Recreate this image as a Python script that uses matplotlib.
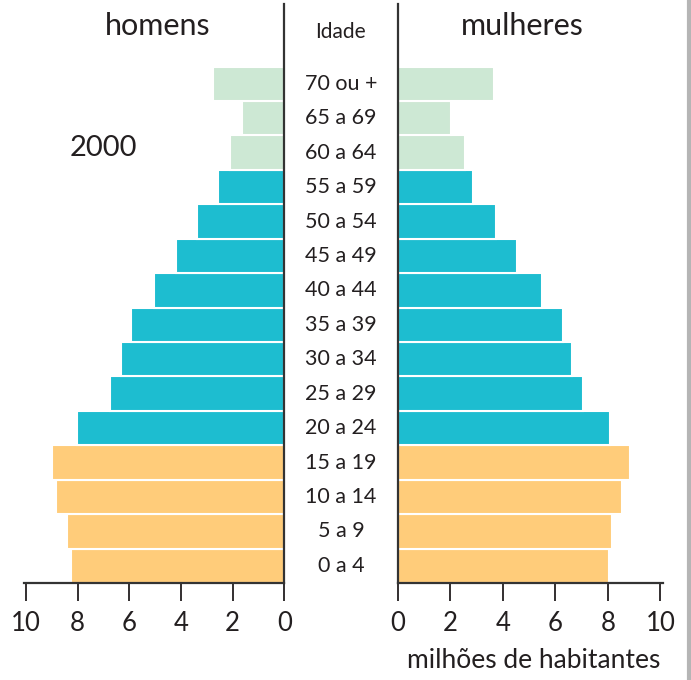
import matplotlib
matplotlib.use('Agg')
from matplotlib import pyplot as plt
from matplotlib.transforms import blended_transform_factory

# age groups, bottom to top
idades = ['0 a 4', '5 a 9', '10 a 14', '15 a 19', '20 a 24', '25 a 29', '30 a 34',
          '35 a 39', '40 a 44', '45 a 49', '50 a 54', '55 a 59', '60 a 64',
          '65 a 69', '70 ou +']
# milhoes de habitantes (2000)
homens = [8.26, 8.42, 8.83, 8.98, 8.01, 6.74, 6.33, 5.93, 5.06, 4.18, 3.38,
          2.58, 2.10, 1.63, 2.75]
mulheres = [8.05, 8.15, 8.54, 8.86, 8.07, 7.05, 6.65, 6.27, 5.48, 4.52, 3.75,
            2.87, 2.55, 2.01, 3.67]
ticks = [0, 2, 4, 6, 8, 10]

LARANJA = '#FFCC7A'
AZUL = '#1DBDD0'
VERDE = '#CDE8D4'
TEXTO = '#231f20'
cores = [LARANJA] * 4 + [AZUL] * 8 + [VERDE] * 3

plt.rcParams['font.family'] = ['Lato', 'DejaVu Sans']
plt.rcParams['text.color'] = TEXTO

W, H = 691, 680
fig = plt.figure(figsize=(W / 100, H / 100), dpi=100)

def px(x0, x1):
    return x0 / W, (x1 - x0) / W

bottom = 1 - 583 / H
height = 579 / H
lx, lw = px(24, 284.3)
rx, rw = px(398, 663)
ax_h = fig.add_axes([lx, bottom, lw, height])
ax_m = fig.add_axes([rx, bottom, rw, height])

pos = list(range(len(idades)))
ax_h.barh(pos, homens, height=1.0, color=cores, edgecolor='white', linewidth=1.5)
ax_m.barh(pos, mulheres, height=1.0, color=cores, edgecolor='white', linewidth=1.5)

ax_h.set_xlim(10.08, 0)
ax_m.set_xlim(0, 10.1)
for ax in (ax_h, ax_m):
    ax.set_ylim(-0.5, 16.32)
    ax.set_xticks(ticks)
    ax.set_xticklabels([str(t) for t in ticks], fontsize=18.5)
    ax.set_yticks([])
    ax.tick_params(axis='x', direction='out', length=13, width=1.3,
                   colors=TEXTO, pad=7)
    ax.spines['top'].set_visible(False)
    ax.spines['bottom'].set_linewidth(1.6)
    ax.spines['bottom'].set_color('#333333')
ax_h.spines['left'].set_visible(False)
ax_h.spines['right'].set_linewidth(1.6)
ax_h.spines['right'].set_color('#333333')
ax_m.spines['right'].set_visible(False)
ax_m.spines['left'].set_linewidth(1.6)
ax_m.spines['left'].set_color('#333333')

# age labels between the two panels
tr = blended_transform_factory(fig.transFigure, ax_m.transData)
for i, lab in enumerate(idades):
    ax_m.text(341 / W, i, lab, transform=tr, ha='center', va='center',
              fontsize=15.5, clip_on=False)

fig.text(158 / W, 1 - 26 / H, 'homens', ha='center', va='center', fontsize=22)
fig.text(522 / W, 1 - 26 / H, 'mulheres', ha='center', va='center', fontsize=22)
fig.text(340 / W, 1 - 32 / H, 'Idade', ha='center', va='center', fontsize=15)
fig.text(103 / W, 1 - 148 / H, '2000', ha='center', va='center', fontsize=21)
fig.text(534 / W, 1 - 661 / H, 'milhões de habitantes', ha='center', va='center',
         fontsize=19)

# grey page edge on the right
fig.add_artist(plt.Line2D([689 / W, 689 / W], [0, 1], color='#b5b5b5',
                          linewidth=3, transform=fig.transFigure))

fig.savefig('out.png', dpi=100)
